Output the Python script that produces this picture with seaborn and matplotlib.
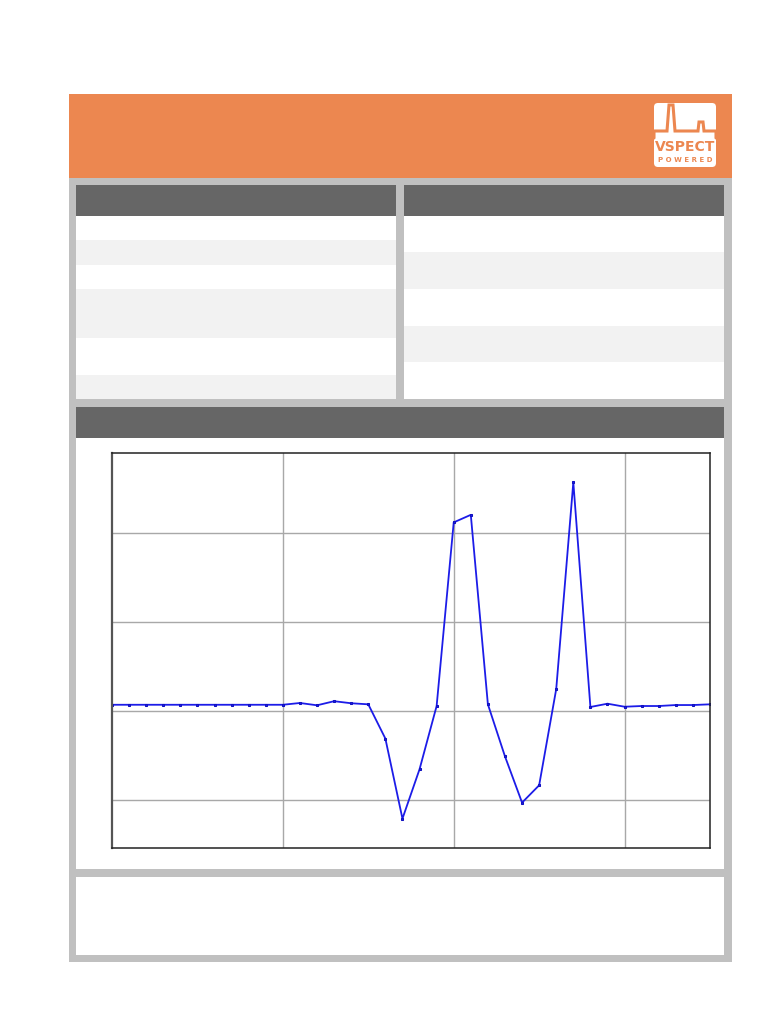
import matplotlib
matplotlib.use("Agg")
import matplotlib.pyplot as plt
import seaborn as sns
import pandas as pd
from matplotlib.patches import Rectangle, FancyBboxPatch

# sample positions and signal values
sample = [0, 1, 2, 3, 4, 5, 6, 7, 8, 9, 10, 11, 12, 13, 14, 15, 16, 17,
          18, 19, 20, 21, 22, 23, 24, 25, 26, 27, 28, 29, 30, 31, 32, 33, 34, 35]
signal = [0.07, 0.07, 0.07, 0.07, 0.07, 0.07, 0.07, 0.07, 0.07, 0.07, 0.07,
          0.09, 0.064, 0.11, 0.087, 0.075, -0.31, -1.21, -0.655, 0.056,
          2.12, 2.205, 0.075, -0.51, -1.03, -0.835, 0.247, 2.57, 0.045,
          0.082, 0.048, 0.056, 0.056, 0.067, 0.067, 0.075]
x_grid = [10, 20, 30]
y_grid = [-1, 0, 1, 2]

df = pd.DataFrame({"sample": sample, "signal": signal})

sns.set_style("white")

ORANGE = "#EC8750"
FRAME = "#C0C0C0"
HEAD = "#666666"
ROW = "#F2F2F2"

fig = plt.figure(figsize=(7.68, 10.24), dpi=100)

# page layout drawn in pixel coordinates
bg = fig.add_axes([0, 0, 1, 1])
bg.set_xlim(0, 768)
bg.set_ylim(1024, 0)
bg.axis("off")


def box(x0, y0, x1, y1, color):
    bg.add_patch(Rectangle((x0, y0), x1 - x0, y1 - y0, facecolor=color,
                           edgecolor="none"))


box(69, 178, 732, 962, FRAME)
box(69, 94, 732, 178, ORANGE)

# left info table
box(76, 185, 396, 216, HEAD)
for y0, y1, c in [(216, 240, "white"), (240, 265, ROW), (265, 289, "white"),
                  (289, 338, ROW), (338, 375, "white"), (375, 399, ROW)]:
    box(76, y0, 396, y1, c)

# right info table
box(404, 185, 724, 216, HEAD)
for y0, y1, c in [(216, 252, "white"), (252, 289, ROW), (289, 326, "white"),
                  (326, 362, ROW), (362, 399, "white")]:
    box(404, y0, 724, y1, c)

# chart panel and bottom panel
box(76, 407, 724, 438, HEAD)
box(76, 438, 724, 869, "white")
box(76, 877, 724, 955, "white")

# logo
bg.add_patch(FancyBboxPatch((654, 103), 62, 64,
                            boxstyle="round,pad=0,rounding_size=4",
                            facecolor="white", edgecolor="none"))
lx = [654, 654, 667, 669, 673, 675, 698, 699, 703, 704, 716, 716]
ly = [138, 131, 131, 105, 105, 131, 131, 122, 122, 131, 131, 138]
bg.plot(lx, ly, color=ORANGE, linewidth=2.2, solid_joinstyle="miter")
bg.text(685.5, 147, "VSPECT", color=ORANGE, fontsize=10, fontweight="bold",
        ha="center", va="center")
bg.text(685.5, 159.5, "P O W E R E D", color=ORANGE, fontsize=5,
        fontweight="bold", ha="center", va="center")

# chart
ax = fig.add_axes([112 / 768, 1 - 848 / 1024, 598 / 768, 395 / 1024])
sns.lineplot(data=df, x="sample", y="signal", ax=ax, color="#1C1CE8",
             linewidth=1.3, marker="s", markersize=2,
             markeredgecolor="#1010C0")
ax.set_xlim(0, 35)
ax.set_ylim(-1.54, 2.9)
ax.set_xticks(x_grid)
ax.set_yticks(y_grid)
ax.grid(True, color="#A8A8A8", linewidth=1)
ax.set_axisbelow(True)
ax.tick_params(left=False, bottom=False, labelleft=False, labelbottom=False)
ax.set_xlabel("")
ax.set_ylabel("")
for side, sp in ax.spines.items():
    sp.set_visible(True)
    sp.set_color("#222222")
    sp.set_linewidth(1.1)
ax.spines["left"].set_color("#555555")
ax.spines["left"].set_linewidth(1.6)

fig.savefig("out.png", dpi=100)
